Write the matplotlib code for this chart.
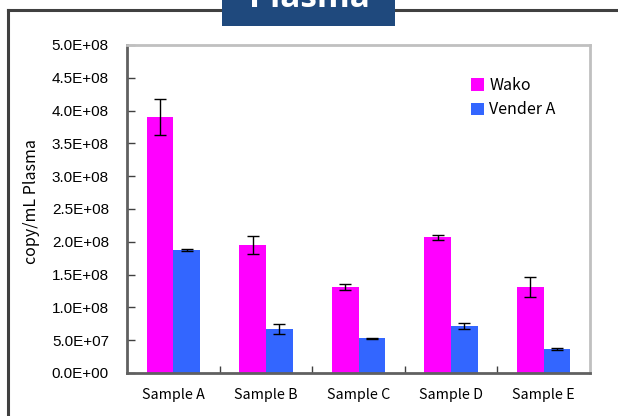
import matplotlib
matplotlib.use("Agg")
import matplotlib.pyplot as plt
from matplotlib.patches import Rectangle
from matplotlib.lines import Line2D
import numpy as np

categories = ["Sample A", "Sample B", "Sample C", "Sample D", "Sample E"]
wako = [3.90e8, 1.95e8, 1.31e8, 2.07e8, 1.31e8]
wako_err = [0.27e8, 0.14e8, 0.04e8, 0.04e8, 0.15e8]
vender = [1.875e8, 0.67e8, 0.53e8, 0.716e8, 0.366e8]
vender_err = [0.02e8, 0.075e8, 0.008e8, 0.045e8, 0.015e8]
series_names = ["Wako", "Vender A"]
title = "Plasma"
ylabel = "copy/mL Plasma"
yticks = [0, 0.5e8, 1.0e8, 1.5e8, 2.0e8, 2.5e8, 3.0e8, 3.5e8, 4.0e8, 4.5e8, 5.0e8]

W, H = 618, 416
fig = plt.figure(figsize=(W / 100, H / 100), dpi=100)

# outer frame
fig.add_artist(Line2D([8 / W, 8 / W], [0, 1 - 10 / H], color="#404040", lw=2.2, transform=fig.transFigure))
fig.add_artist(Line2D([8 / W, 1], [1 - 10 / H, 1 - 10 / H], color="#404040", lw=2.2, transform=fig.transFigure))
# title box
fig.add_artist(Rectangle((222 / W, 1 - 26 / H), (395 - 222) / W, 26 / H, facecolor="#1F497D",
                         edgecolor="none", transform=fig.transFigure, zorder=5))
fig.text(309 / W, 1 - 7 / H, title, color="white", fontsize=24, fontweight="bold",
         family="Open Sans", ha="center", va="baseline", zorder=6)

ax = fig.add_axes([127 / W, 1 - 373 / H, (590 - 127) / W, (373 - 45) / H])
x = np.arange(len(categories))
bw = 0.288
ax.bar(x - bw / 2, wako, bw, color="#FF00FF", label=series_names[0], zorder=2)
ax.bar(x + bw / 2, vender, bw, color="#3366FF", label=series_names[1], zorder=2)
ax.errorbar(x - bw / 2, wako, yerr=wako_err, fmt="none", ecolor="black", elinewidth=1, capsize=4, capthick=1, zorder=3)
ax.errorbar(x + bw / 2, vender, yerr=vender_err, fmt="none", ecolor="black", elinewidth=1, capsize=4, capthick=1, zorder=3)

ax.set_xlim(-0.5, len(categories) - 0.5)
ax.set_ylim(0, 5e8)
ax.set_yticks(yticks)
ax.set_yticklabels(["{:.1E}".format(v) for v in yticks], family="Liberation Sans", fontsize=11)
ax.tick_params(axis="y", direction="in", length=6, width=1, color="#404040", pad=13)
ax.set_xticks(x)
ax.set_xticklabels(categories, family="Noto Sans CJK JP", fontsize=10.3)
ax.tick_params(axis="x", which="major", length=0, pad=11)
ax.set_xticks(np.arange(0.5, len(categories) - 0.5, 1), minor=True)
ax.tick_params(axis="x", which="minor", direction="in", length=5, width=1, color="#404040")

for s in ["left", "bottom"]:
    ax.spines[s].set_color("#606060")
    ax.spines[s].set_linewidth(2)
for s in ["top", "right"]:
    ax.spines[s].set_color("#C0C0C0")
    ax.spines[s].set_linewidth(2)

ax.set_ylabel(ylabel, family="Noto Sans CJK JP", fontsize=11.5)
ax.yaxis.set_label_coords((40 - 127) / 463, (373 - 202) / 328)

leg = ax.legend(loc="upper left", bbox_to_anchor=((471 - 127) / 463, (373 - 77) / 328), frameon=False,
                prop={"family": "Noto Sans CJK JP", "size": 11.5}, handlelength=0.8, handleheight=0.8,
                handletextpad=0.35, borderpad=0, labelspacing=0.45, borderaxespad=0)

fig.savefig("out.png", dpi=100)
